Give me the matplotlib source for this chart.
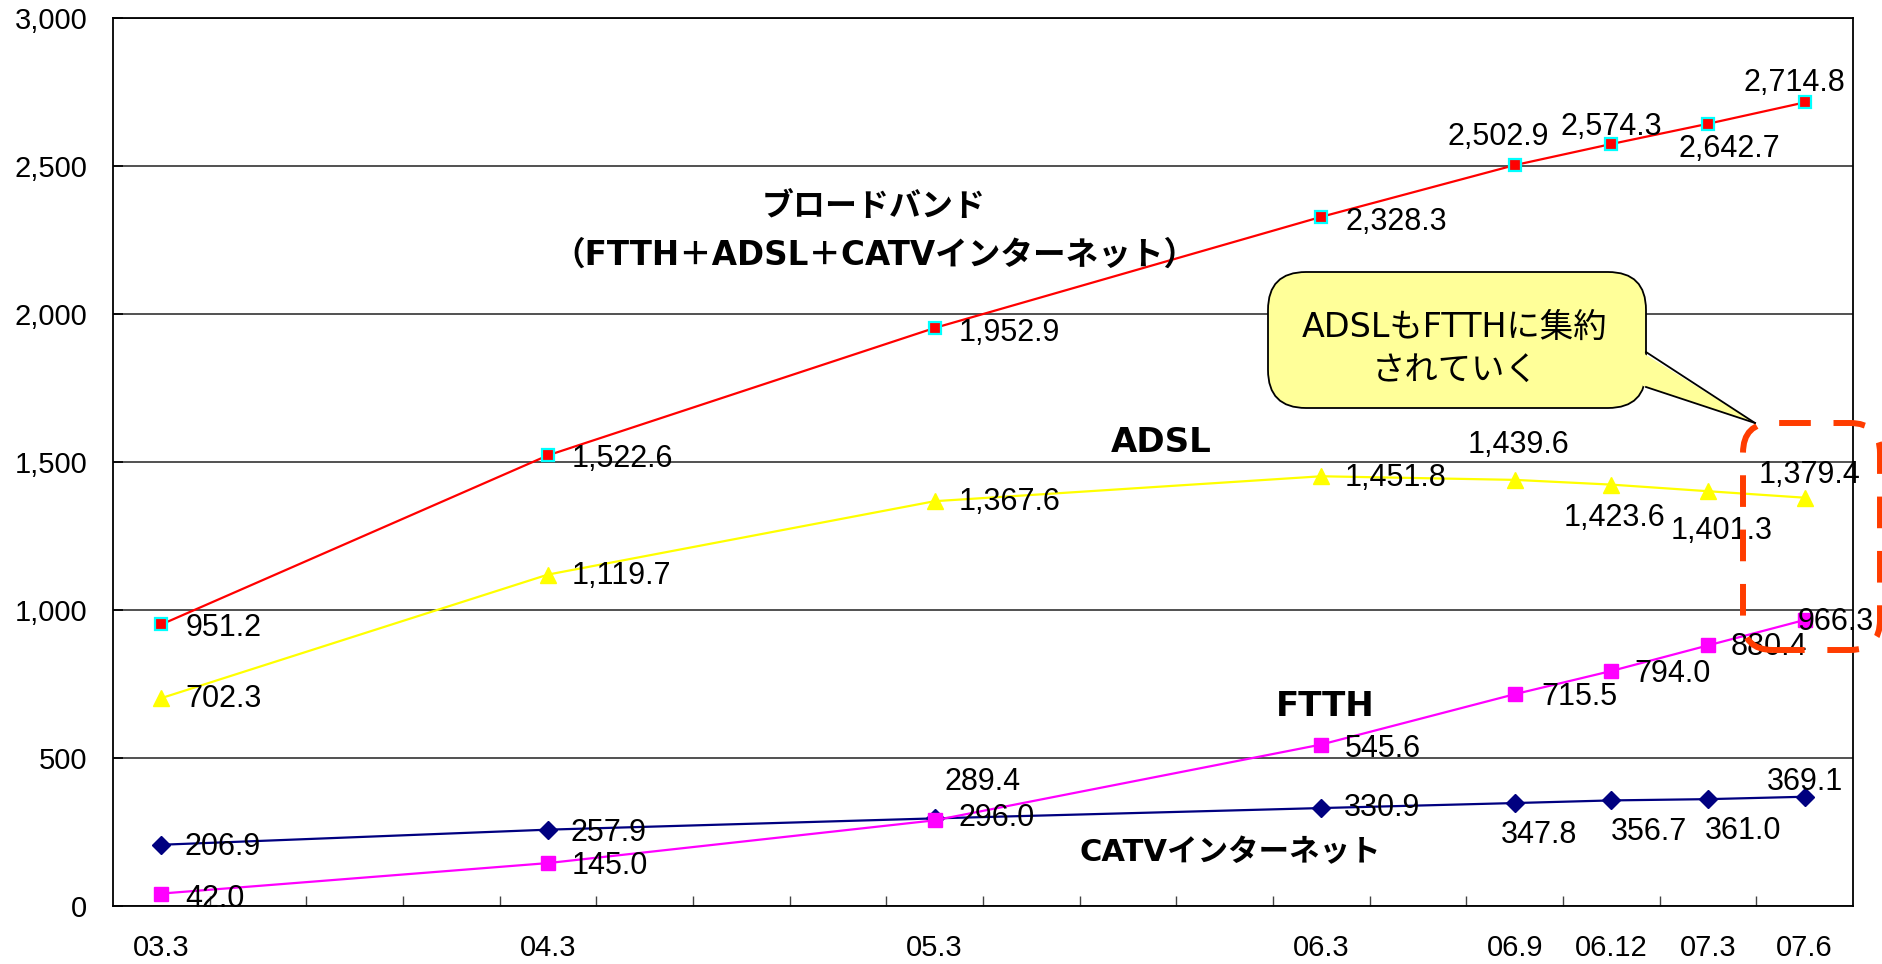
import numpy as np
import matplotlib
matplotlib.use("Agg")
import matplotlib.pyplot as plt
from matplotlib.patches import FancyBboxPatch, Polygon
from matplotlib.lines import Line2D
from matplotlib.transforms import IdentityTransform

plt.rcParams['font.family'] = ['Liberation Sans', 'Noto Sans CJK JP']

# data (万契約)
periods = ['03.3', '04.3', '05.3', '06.3', '06.9', '06.12', '07.3', '07.6']
broadband = [951.2, 1522.6, 1952.9, 2328.3, 2502.9, 2574.3, 2642.7, 2714.8]
adsl = [702.3, 1119.7, 1367.6, 1451.8, 1439.6, 1423.6, 1401.3, 1379.4]
ftth = [42.0, 145.0, 289.4, 545.6, 715.5, 794.0, 880.4, 966.3]
catv = [206.9, 257.9, 296.0, 330.9, 347.8, 356.7, 361.0, 369.1]

# quarter index from 03.3
def quarter_pos(p):
    yy, mm = p.split('.')
    return (int(yy) - 3) * 4 + (int(mm) - 3) // 3

xs = [quarter_pos(p) for p in periods]

# label offsets in pixels (dx, dy, ha)
bb_off = [(24, -4, 'left'), (24, -4, 'left'), (24, -5, 'left'), (24, -5, 'left'),
          (-16, 28, 'center'), (0, 17, 'center'), (21, -25, 'center'), (-10, 19, 'center')]
adsl_off = [(24, -1, 'left'), (24, -1, 'left'), (24, -1, 'left'), (23, -2, 'left'),
            (4, 35, 'center'), (3, -33, 'center'), (14, -40, 'center'), (5, 23, 'center')]
ftth_off = [(24, -5, 'left'), (24, -3, 'left'), (48, 38, 'center'), (23, -4, 'left'),
            (27, -3, 'left'), (23, -3, 'left'), (23, -2, 'left'), (-7, -2, 'left')]
catv_off = [(23, -2, 'left'), (23, -3, 'left'), (24, 0, 'left'), (23, 0, 'left'),
            (24, -32, 'center'), (38, -32, 'center'), (35, -32, 'center'), (0, 15, 'center')]

W, H = 1883, 964
fig = plt.figure(figsize=(W / 100, H / 100), dpi=100)
ax = fig.add_axes([113 / W, (H - 906) / H, 1740 / W, 888 / H])

ax.plot(xs, broadband, color='#FF0000', lw=1.6, marker='s', ms=8.5,
        mfc='#FF0000', mec='#00FFFF', mew=1.6, zorder=3)
ax.plot(xs, adsl, color='#FFFF00', lw=1.6, marker='^', ms=12,
        mfc='#FFFF00', mec='#FFFF00', zorder=3)
ax.plot(xs, catv, color='#000080', lw=1.6, marker='D', ms=9,
        mfc='#000080', mec='#000080', zorder=3)
ax.plot(xs, ftth, color='#FF00FF', lw=1.6, marker='s', ms=9.5,
        mfc='#FF00FF', mec='#FF00FF', zorder=4)

for series, offs in [(broadband, bb_off), (adsl, adsl_off), (ftth, ftth_off), (catv, catv_off)]:
    for x, v, (dx, dy, ha) in zip(xs, series, offs):
        ax.annotate(f"{v:,.1f}", (x, v), xytext=(dx, dy), textcoords='offset pixels',
                    ha=ha, va='center', fontsize=22, color='black', zorder=5,
                    annotation_clip=False)

ax.set_xlim(-0.5, 17.5)
ax.set_ylim(0, 3000)
ax.set_yticks(np.arange(0, 3001, 500))
ax.yaxis.set_major_formatter(matplotlib.ticker.FuncFormatter(lambda v, p: f"{int(v):,}"))
ax.tick_params(axis='y', direction='in', length=7, width=1.2, pad=18.5, labelsize=21)
ax.set_xticks(xs)
ax.set_xticklabels(periods)
ax.set_xticks(np.arange(0.5, 17, 1), minor=True)
ax.tick_params(axis='x', which='major', length=0, pad=20, labelsize=21)
ax.tick_params(axis='x', which='minor', direction='in', length=7, width=1.0, color='#444444')
ax.yaxis.grid(True, color='#333333', lw=1.2)
ax.set_axisbelow(True)
for s in ax.spines.values():
    s.set_linewidth(1.3)
    s.set_color('black')

# series names
bold_fam = ['DejaVu Sans', 'Noto Sans CJK JP']
def px(x, y):
    return (x, H - y)

fig.text(874 / W, 1 - 208 / H, 'ブロードバンド', family=bold_fam, weight='bold',
         fontsize=23, ha='center', va='center')
fig.text(874 / W, 1 - 255 / H, '（FTTH＋ADSL＋CATVインターネット）', family=bold_fam,
         weight='bold', fontsize=23.5, ha='center', va='center')
fig.text(1161 / W, 1 - 443 / H, 'ADSL', family=bold_fam, weight='bold',
         fontsize=24.5, ha='center', va='center')
fig.text(1325 / W, 1 - 706 / H, 'FTTH', family=bold_fam, weight='bold',
         fontsize=24.5, ha='center', va='center')
fig.text(1230 / W, 1 - 853 / H, 'CATVインターネット', family=bold_fam, weight='bold',
         fontsize=22, ha='center', va='center')

# callout
box = FancyBboxPatch(px(1268, 408), 378, 136, boxstyle='round,pad=0,rounding_size=38',
                     fc='#FFFF99', ec='black', lw=1.3, transform=IdentityTransform(),
                     zorder=6)
fig.patches.append(box)
tail = Polygon([px(1643, 353), px(1755, 423), px(1643, 386)], closed=True,
               fc='#FFFF99', ec='none', transform=IdentityTransform(), zorder=7)
fig.patches.append(tail)
for a in [px(1646, 352), px(1646, 387)]:
    tip = px(1755, 423)
    fig.lines.append(Line2D([a[0], tip[0]], [a[1], tip[1]], color='black', lw=1.3,
                            transform=IdentityTransform(), zorder=8))
fig.text(1455 / W, 1 - 327 / H, 'ADSLもFTTHに集約', family=bold_fam, fontsize=24,
         ha='center', va='center', zorder=9)
fig.text(1455 / W, 1 - 370 / H, 'されていく', family=bold_fam, fontsize=24,
         ha='center', va='center', zorder=9)

# dashed highlight
dash = FancyBboxPatch(px(1743, 650), 137, 227, boxstyle='round,pad=0,rounding_size=30',
                      fill=False, ec='#FF3C00', lw=4.3, linestyle=(0, (5.3, 3.8)),
                      transform=IdentityTransform(), zorder=9)
fig.patches.append(dash)

fig.savefig('out.png', dpi=100)
